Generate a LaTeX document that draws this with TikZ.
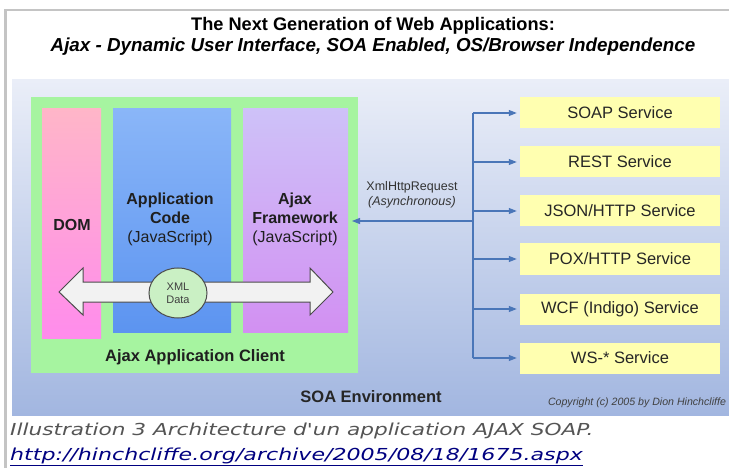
\documentclass[tikz,border=0pt]{standalone}
\usepackage{fontspec}
\setmainfont{Liberation Sans}
\newfontfamily\capfont{DejaVu Sans}
\usetikzlibrary{arrows.meta,shapes.geometric}

\definecolor{frame}{HTML}{C4C4C4}
\definecolor{envtop}{HTML}{EAEEF8}
\definecolor{envbot}{HTML}{A2B6E0}
\definecolor{clientgreen}{HTML}{A6F4A0}
\definecolor{domtop}{HTML}{FFB6C8}
\definecolor{dombot}{HTML}{FF8CEC}
\definecolor{apptop}{HTML}{8AB6F8}
\definecolor{appbot}{HTML}{5C94F0}
\definecolor{fwtop}{HTML}{CEC2F8}
\definecolor{fwbot}{HTML}{D290F2}
\definecolor{svcyellow}{HTML}{FFFFB0}
\definecolor{xmlgreen}{HTML}{CAF0C4}
\definecolor{linkblue}{HTML}{4A76B8}
\definecolor{capgray}{HTML}{555555}
\definecolor{urlblue}{HTML}{000080}

\begin{document}
\begin{tikzpicture}[x=1pt, y=-1pt,
    layer/.style={inner sep=0pt, anchor=north west},
    lbl/.style={font=\fontsize{16}{19}\selectfont, text=black!88, align=center},
    svc/.style={fill=svcyellow, minimum width=200pt, minimum height=31pt,
      inner sep=0pt, font=\fontsize{16.5}{19}\selectfont, text=black!85},
    link/.style={draw=linkblue, line width=1.2pt},
    tip/.style={-{Triangle[length=8pt,width=6pt]}}]
  \useasboundingbox (0,0) rectangle (729,468);
  \fill[white] (0,0) rectangle (729,468);

  % gray page frame
  \draw[frame, line width=2.5pt] (4,10) -- (729,10);
  \draw[frame, line width=3pt] (5.5,10) -- (5.5,468);

  % title
  \node[font=\fontsize{18.2}{21}\selectfont\bfseries] (title) at (373,26)
    {The Next Generation of Web Applications:};
  \node[font=\fontsize{18.8}{21}\selectfont\bfseries\itshape] (subtitle) at (373,47)
    {Ajax - Dynamic User Interface, SOA Enabled, OS/Browser Independence};

  % SOA environment
  \shade[top color=envtop, bottom color=envbot] (12,80) rectangle (729,415);

  % client and its layers
  \node[layer, fill=clientgreen, minimum width=327pt, minimum height=276pt] (client) at (31,97) {};
  \node[layer, top color=domtop, bottom color=dombot, minimum width=59pt, minimum height=230pt] (dom) at (42,108) {};
  \node[layer, top color=apptop, bottom color=appbot, minimum width=118pt, minimum height=224pt] (app) at (113,108) {};
  \node[layer, top color=fwtop, bottom color=fwbot, minimum width=105pt, minimum height=224pt] (fw) at (243,108) {};

  \node[lbl] (domlbl) at (72,225) {\textbf{DOM}};
  \node[lbl] (applbl) at (170,219) {\textbf{Application}\\\textbf{Code}\\(JavaScript)};
  \node[lbl] (fwlbl) at (295,219) {\textbf{Ajax}\\\textbf{Framework}\\(JavaScript)};
  \node[lbl, font=\fontsize{16.5}{19}\selectfont\bfseries] (clientlbl) at (195,357) {Ajax Application Client};

  % XML data exchange
  \draw[fill=black!5, draw=black!70, line width=1pt]
    (59,292) -- (83,268) -- (83,282) -- (310,282) -- (310,268) -- (333,292)
    -- (310,315) -- (310,302) -- (83,302) -- (83,315) -- cycle;
  \node[ellipse, draw=black!70, line width=1pt, fill=xmlgreen,
    minimum width=58pt, minimum height=50pt, inner sep=0pt, align=center,
    font=\fontsize{11}{13}\selectfont, text=black!75] (xml) at (178,293) {XML\\Data};

  % services
  \foreach \s/\y/\t in {1/113/{SOAP Service}, 2/162/{REST Service}, 3/211/{JSON/HTTP Service},
      4/259/{POX/HTTP Service}, 5/309/{WCF (Indigo) Service}, 6/358/{WS-* Service}}
    \node[svc] (sv\s) at (620,\y) {\t};

  % request bus
  \coordinate (bustop) at (473,113);
  \coordinate (busbot) at (473,358);
  \coordinate (busmid) at (473,221);
  \coordinate (req) at (352,221);
  \draw[link] (bustop) -- (busbot);
  \foreach \s in {1,...,6}
    \draw[link, tip, shorten >=3pt] (bustop |- sv\s) -- (sv\s.west);
  \draw[link, tip] (busmid) -- (req);
  \node[font=\fontsize{12.5}{15}\selectfont, text=black!80, align=center] (xhr) at (412,195)
    {XmlHttpRequest\\\textit{(Asynchronous)}};

  % footer of the picture
  \node[font=\fontsize{16.5}{19}\selectfont\bfseries, text=black!85] (soalbl) at (371,397) {SOA Environment};
  \node[font=\fontsize{10.6}{12}\selectfont\itshape, text=black!75] (copy) at (637,403)
    {Copyright (c) 2005 by Dion Hinchcliffe};

  % caption
  \node[anchor=base west, inner sep=0pt, text=capgray] (caption) at (10,435)
    {\scalebox{1.31}[1]{\capfont\itshape\fontsize{16.5}{19}\selectfont Illustration 3 Architecture d'un application AJAX SOAP.}};
  \node[anchor=base west, inner sep=0pt, text=urlblue] (url) at (10,460)
    {\scalebox{1.34}[1]{\capfont\itshape\fontsize{16.5}{19}\selectfont\underline{http://hinchcliffe.org/archive/2005/08/18/1675.aspx}}};
\end{tikzpicture}
\end{document}
